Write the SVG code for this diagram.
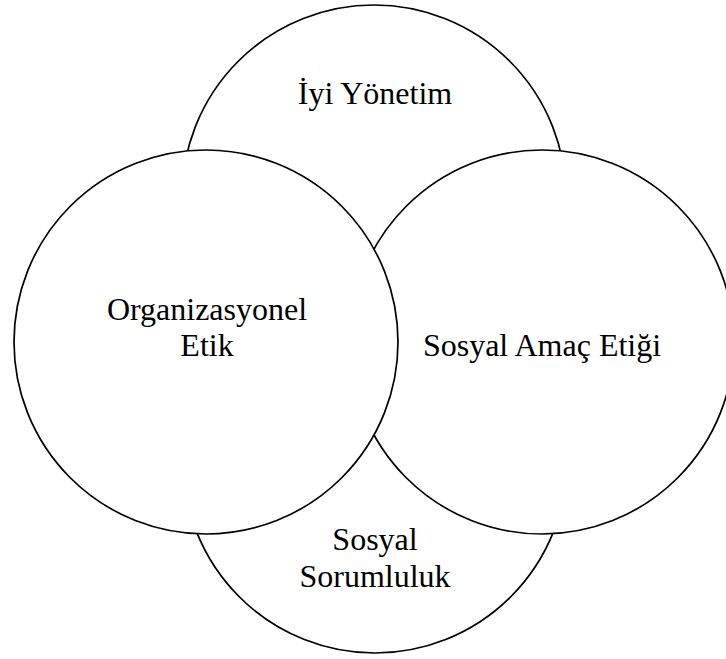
<svg xmlns="http://www.w3.org/2000/svg" width="726" height="659" viewBox="0 0 726 659">
<style>
.c{fill:#fff;stroke:#000;stroke-width:1.7}
.t{font-family:"Liberation Serif","Times New Roman",serif;font-size:32px;fill:#000;text-anchor:middle}
</style>
<rect width="726" height="659" fill="#fff"/>
<g id="iyi-yonetim">
<circle class="c" cx="374" cy="197" r="192"/>
<text class="t" x="375" y="104">İyi Yönetim</text>
</g>
<g id="sosyal-sorumluluk">
<circle class="c" cx="375" cy="461" r="192"/>
<text class="t" x="375" y="550">Sosyal</text>
<text class="t" x="375" y="587">Sorumluluk</text>
</g>
<g id="sosyal-amac-etigi">
<circle class="c" cx="542" cy="342" r="192"/>
<text class="t" x="542" y="356">Sosyal Amaç Etiği</text>
</g>
<g id="organizasyonel-etik">
<circle class="c" cx="206" cy="342" r="192"/>
<text class="t" x="207" y="320">Organizasyonel</text>
<text class="t" x="207" y="356">Etik</text>
</g>
<g id="connectors"></g>
</svg>
